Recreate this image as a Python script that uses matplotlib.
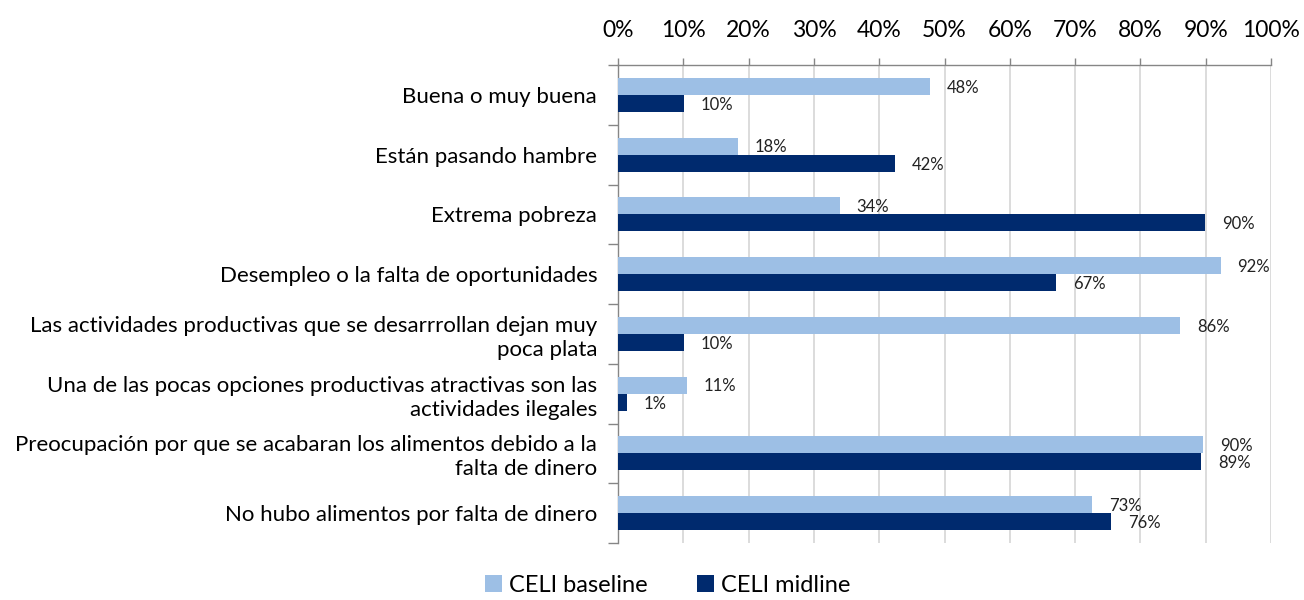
import matplotlib
matplotlib.use("Agg")
import matplotlib.pyplot as plt
import numpy as np

plt.rcParams["font.family"] = ["Lato", "DejaVu Sans"]

BASE = "#9dbfe5"
MID = "#002a6e"
GRID = "#d9d9d9"
SPINE = "#868686"

categories = [
    "Buena o muy buena",
    "Están pasando hambre",
    "Extrema pobreza",
    "Desempleo o la falta de oportunidades",
    "Las actividades productivas que se desarrrollan dejan muy\npoca plata",
    "Una de las pocas opciones productivas atractivas son las\nactividades ilegales",
    "Preocupación por que se acabaran los alimentos debido a la\nfalta de dinero",
    "No hubo alimentos por falta de dinero",
]
baseline = [47.8, 18.4, 34.0, 92.3, 86.1, 10.6, 89.6, 72.6]
midline = [10.1, 42.4, 89.9, 67.1, 10.1, 1.4, 89.3, 75.5]
series_names = ["CELI baseline", "CELI midline"]

fig = plt.figure(figsize=(13.04, 6.0), dpi=100, facecolor="white")
ax = fig.add_axes([618 / 1304, 57 / 600, 653 / 1304, 478 / 600])

y = np.arange(len(categories))
h = 0.285
b1 = ax.barh(y - h / 2, baseline, height=h, color=BASE, label=series_names[0], zorder=3)
b2 = ax.barh(y + h / 2, midline, height=h, color=MID, label=series_names[1], zorder=3)

for bars, vals in ((b1, baseline), (b2, midline)):
    for bar, v in zip(bars, vals):
        ax.annotate(f"{v:.0f}%", (bar.get_width(), bar.get_y() + bar.get_height() / 2),
                    xytext=(12, -1), textcoords="offset points",
                    ha="left", va="center", fontsize=12, color="#222222")

ax.set_xlim(0, 100)
ax.set_ylim(len(categories) - 0.5, -0.5)
ax.set_xticks(np.arange(0, 101, 10))
ax.set_xticklabels([f"{t}%" for t in range(0, 101, 10)], fontsize=16.5)
ax.xaxis.tick_top()
ax.tick_params(axis="x", which="major", direction="out", length=5, width=1,
               color=SPINE, pad=12)
ax.grid(axis="x", color=GRID, lw=1.3, zorder=0)

ax.set_yticks(y)
ax.set_yticklabels(categories, fontsize=16, ha="right", linespacing=1.25)
ax.tick_params(axis="y", which="major", length=0, pad=15)
ax.set_yticks(np.arange(-0.5, len(categories)), minor=True)
ax.tick_params(axis="y", which="minor", direction="out", length=7, width=1, color=SPINE)

for s in ("right", "bottom"):
    ax.spines[s].set_visible(False)
for s in ("left", "top"):
    ax.spines[s].set_color(SPINE)
    ax.spines[s].set_linewidth(1)

fig.legend(loc="lower center", bbox_to_anchor=(0.512, -0.028), ncol=2, frameon=False,
           fontsize=17, handlelength=0.7, handleheight=0.7, handletextpad=0.3,
           columnspacing=2.1)

fig.savefig("out.png", dpi=100, facecolor="white")
